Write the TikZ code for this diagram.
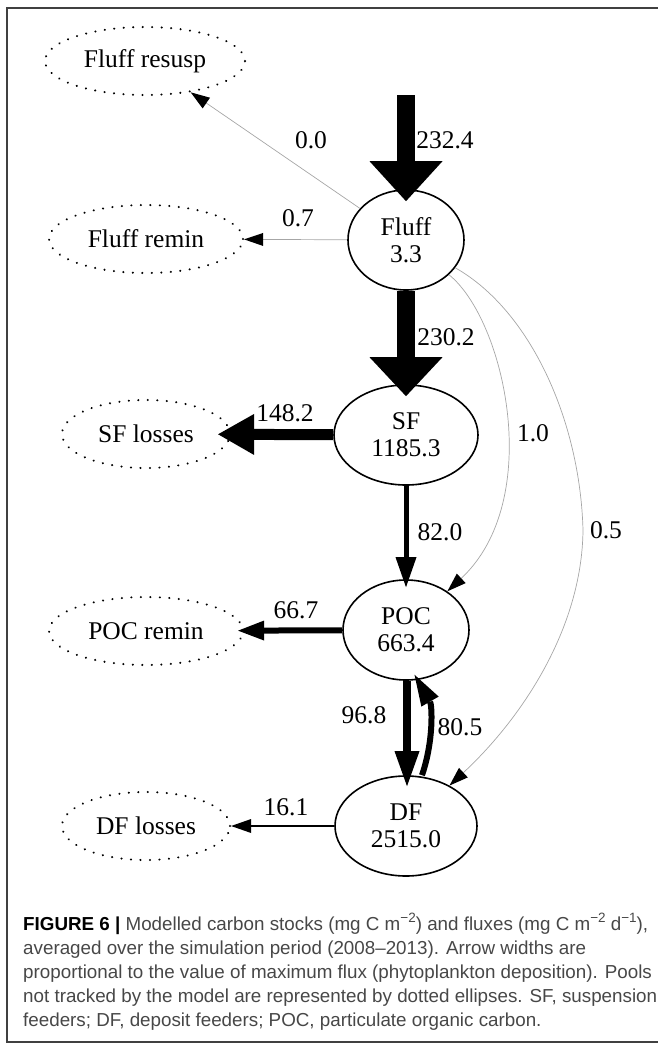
\documentclass[tikz,border=0pt]{standalone}
\usepackage{fontspec}
\setmainfont{Liberation Serif}
\newfontfamily\capfont{Liberation Sans}
\usetikzlibrary{arrows.meta,shapes.geometric}
\newcommand{\capsup}[1]{\raisebox{0.42em}{\fontsize{13.5}{13.5}\selectfont #1}}

\begin{document}
\begin{tikzpicture}[x=1pt,y=-1pt,
  pool/.style={ellipse,draw,line width=1.6pt,inner sep=0pt,align=center,
    minimum height=100pt,font=\fontsize{25.5}{27}\selectfont},
  sink/.style={ellipse,draw,line width=2.2pt,dash pattern=on 0.1pt off 9.4pt,
    line cap=round,inner sep=0pt,minimum height=68pt,
    font=\fontsize{25.5}{27}\selectfont},
  flux/.style={inner sep=0pt,font=\fontsize{25.5}{27}\selectfont},
  flow/.style n args={3}{line width=#1pt,
    -{Triangle[length=#2pt,width=#3pt,line width=0pt]}},
  faint/.style={draw=black!35,line width=0.7pt,
    -{Triangle[length=19pt,width=13pt,color=black,line width=0pt]}}]
  \useasboundingbox (0,0) rectangle (657,1047);
  \draw[black!75,line width=1.4pt] (690,8) -- (7,8) -- (7,1042) -- (690,1042);

  % pools and sinks
  \node[sink,minimum width=200pt] (resusp) at (145,61) {Fluff resusp};
  \node[sink,minimum width=194pt] (fremin) at (146,239) {Fluff remin};
  \node[pool,minimum width=116pt] (fluff) at (406,240) {Fluff\\3.3};
  \node[pool,minimum width=144pt] (sf) at (406,435) {SF\\1185.3};
  \node[sink,minimum width=168pt] (sfloss) at (146,434) {SF losses};
  \node[pool,minimum width=126pt] (poc) at (406,630) {POC\\663.4};
  \node[sink,minimum width=194pt] (pocremin) at (146,631) {POC remin};
  \node[pool,minimum width=142pt] (df) at (406,826) {DF\\2515.0};
  \node[sink,minimum width=168pt] (dfloss) at (146,826) {DF losses};
  \coordinate (phyto) at (406,95);

  % fluxes
  \draw[flow={18}{40}{73},shorten >=-12pt] (phyto) -- (fluff);
  \draw[flow={18}{39}{73},shorten >=-12pt] (fluff) -- (sf);
  \draw[flow={11}{36}{41},shorten >=-13pt] (sf) -- (sfloss);
  \draw[flow={5}{30}{21},shorten >=-8pt] (sf) -- (poc);
  \draw[flow={6}{26}{20},shorten >=-6pt] (poc) -- (pocremin);
  \draw[flow={8}{35}{25},shorten >=-11pt]
    ([xshift=1pt]poc.south) -- ([xshift=1pt]df.north);
  \draw[flow={6}{31}{20},shorten >=-7pt]
    ([xshift=16pt]df.north) .. controls (434,740) and (432,705)
    .. ([xshift=12pt]poc.south);
  \draw[line width=1.5pt,-{Triangle[length=20pt,width=14pt,line width=0pt]}]
    (df) -- (dfloss);
  \draw[faint] (fluff) -- (fremin);
  \draw[faint] (fluff) -- (resusp);
  \draw[faint] (fluff) .. controls (505,320) and (545,500) .. (poc);
  \draw[faint] (fluff) .. controls (530,310) and (580,420) .. (583,530)
    .. controls (582,630) and (520,720) .. (df);

  % flux values
  \node[flux] (v2324) at (445,140) {232.4};
  \node[flux] (v00) at (311,140) {0.0};
  \node[flux] (v07) at (298,218) {0.7};
  \node[flux] (v2302) at (446,337) {230.2};
  \node[flux] (v1482) at (285,413) {148.2};
  \node[flux] (v10) at (533,433) {1.0};
  \node[flux] (v05) at (606,530) {0.5};
  \node[flux] (v820) at (440,532) {82.0};
  \node[flux] (v667) at (296,610) {66.7};
  \node[flux] (v968) at (364,715) {96.8};
  \node[flux] (v805) at (460,727) {80.5};
  \node[flux] (v161) at (286,807) {16.1};

  % caption
  \node[anchor=north west,align=left,inner sep=0pt,text=black!72,
    font=\capfont\fontsize{18.8}{24}\selectfont] (caption) at (23,913)
    {{\bfseries\color{black}FIGURE 6 |} Modelled carbon stocks
     (mg C m\capsup{−2}) and fluxes
     (mg C m\capsup{−2} d\capsup{−1}),\\
     averaged over the simulation period (2008–2013). Arrow widths are\\
     proportional to the value of maximum flux (phytoplankton deposition). Pools\\
     not tracked by the model are represented by dotted ellipses. SF, suspension\\
     feeders; DF, deposit feeders; POC, particulate organic carbon.};
\end{tikzpicture}
\end{document}
